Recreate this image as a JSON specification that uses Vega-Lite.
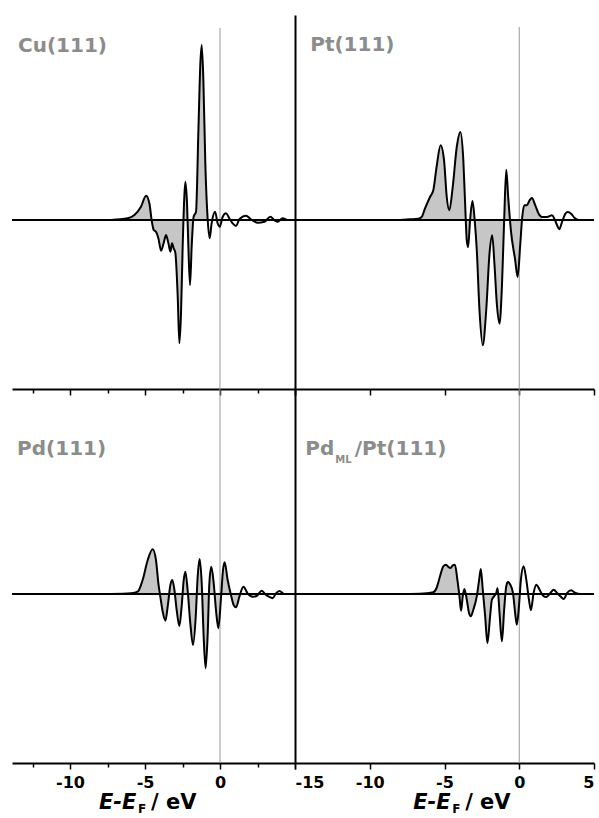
{
  "$schema": "https://vega.github.io/schema/vega-lite/v6.json",
  "padding": {"left": 11, "top": 15, "right": 0, "bottom": 0},
  "background": "white",
  "config": {
    "view": {"stroke": null},
    "concat": {"spacing": 0},
    "font": "DejaVu Sans",
    "axis": {"grid": false, "domainColor": "black", "domainWidth": 2, "tickColor": "black", "tickWidth": 1.5, "labelFont": "DejaVu Sans", "labelFontWeight": "bold", "labelFontSize": 16, "labelColor": "black", "labelPadding": 5}
  },
  "datasets": {
    "cu": [
      {"e": -7.27, "dos": 0}, {"e": -6.16, "dos": 1.7}, {"e": -5.71, "dos": 5}, {"e": -5.27, "dos": 13.3}, {"e": -4.93, "dos": 24.3}, {"e": -4.71, "dos": 16.7}, {"e": -4.56, "dos": 0}, {"e": -4.42, "dos": -10}, {"e": -4.27, "dos": -11.7}, {"e": -4.11, "dos": -18.3}, {"e": -3.93, "dos": -30.7}, {"e": -3.76, "dos": -23.3}, {"e": -3.6, "dos": -15}, {"e": -3.44, "dos": -23.3}, {"e": -3.31, "dos": -31.7}, {"e": -3.2, "dos": -23.3}, {"e": -3.09, "dos": -28.3}, {"e": -2.98, "dos": -32.7}, {"e": -2.82, "dos": -76.7}, {"e": -2.71, "dos": -123.3}, {"e": -2.6, "dos": -93.3}, {"e": -2.49, "dos": -26.7}, {"e": -2.38, "dos": 23.3}, {"e": -2.31, "dos": 38.3}, {"e": -2.2, "dos": 16.7}, {"e": -2.11, "dos": -26.7}, {"e": -2.0, "dos": -65}, {"e": -1.89, "dos": -26.7}, {"e": -1.76, "dos": 3.3}, {"e": -1.6, "dos": 8.3}, {"e": -1.44, "dos": 90}, {"e": -1.31, "dos": 156.7}, {"e": -1.22, "dos": 175}, {"e": -1.11, "dos": 140}, {"e": -0.98, "dos": 56.7}, {"e": -0.82, "dos": 0}, {"e": -0.69, "dos": -18.3}, {"e": -0.56, "dos": -3.3}, {"e": -0.33, "dos": 8.3}, {"e": -0.16, "dos": -3.3}, {"e": -0.02, "dos": -6.7}, {"e": 0.18, "dos": 3.3}, {"e": 0.4, "dos": 6.7}, {"e": 0.62, "dos": 1.7}, {"e": 0.84, "dos": -3.3}, {"e": 1.07, "dos": -6}, {"e": 1.29, "dos": 0.7}, {"e": 1.73, "dos": 4.3}, {"e": 2.07, "dos": 0.7}, {"e": 2.51, "dos": -2.7}, {"e": 2.96, "dos": -1.7}, {"e": 3.36, "dos": 3.3}, {"e": 3.6, "dos": 0}, {"e": 3.84, "dos": -1.7}, {"e": 4.18, "dos": 1.7}, {"e": 4.51, "dos": 0}, {"e": 5.0, "dos": 0}
    ],
    "pt": [
      {"e": -7.99, "dos": 0}, {"e": -7.32, "dos": 0.7}, {"e": -6.76, "dos": 1.3}, {"e": -6.53, "dos": 3}, {"e": -6.31, "dos": 11.3}, {"e": -5.97, "dos": 23}, {"e": -5.75, "dos": 29.7}, {"e": -5.53, "dos": 53}, {"e": -5.26, "dos": 74.7}, {"e": -5.03, "dos": 59.7}, {"e": -4.85, "dos": 23}, {"e": -4.68, "dos": 9.7}, {"e": -4.45, "dos": 33}, {"e": -4.18, "dos": 73}, {"e": -3.94, "dos": 88}, {"e": -3.74, "dos": 59.7}, {"e": -3.62, "dos": 16.3}, {"e": -3.51, "dos": -20.3}, {"e": -3.42, "dos": -27}, {"e": -3.29, "dos": -0.3}, {"e": -3.13, "dos": 19}, {"e": -2.98, "dos": -0.3}, {"e": -2.84, "dos": -30.3}, {"e": -2.66, "dos": -90.3}, {"e": -2.44, "dos": -125.3}, {"e": -2.21, "dos": -90.3}, {"e": -1.99, "dos": -33.7}, {"e": -1.81, "dos": -15.3}, {"e": -1.66, "dos": -43.7}, {"e": -1.5, "dos": -83.7}, {"e": -1.32, "dos": -103.7}, {"e": -1.16, "dos": -67}, {"e": -1.01, "dos": -0.3}, {"e": -0.87, "dos": 50.3}, {"e": -0.74, "dos": 23}, {"e": -0.56, "dos": -10.3}, {"e": -0.27, "dos": -40.3}, {"e": -0.11, "dos": -57}, {"e": 0.07, "dos": -23.7}, {"e": 0.2, "dos": 3}, {"e": 0.34, "dos": 14.7}, {"e": 0.51, "dos": 14.7}, {"e": 0.69, "dos": 19.7}, {"e": 0.85, "dos": 22}, {"e": 1.07, "dos": 14.7}, {"e": 1.3, "dos": 6.3}, {"e": 1.52, "dos": 3}, {"e": 1.86, "dos": 3}, {"e": 2.19, "dos": 4.7}, {"e": 2.35, "dos": 1.3}, {"e": 2.53, "dos": -5.3}, {"e": 2.68, "dos": -9.3}, {"e": 2.86, "dos": -2}, {"e": 3.09, "dos": 6.3}, {"e": 3.24, "dos": 8}, {"e": 3.47, "dos": 6.3}, {"e": 3.69, "dos": 2.3}, {"e": 3.98, "dos": 0}, {"e": 5.0, "dos": 0}
    ],
    "pd": [
      {"e": -7.27, "dos": 0}, {"e": -5.93, "dos": 0.7}, {"e": -5.49, "dos": 2.3}, {"e": -5.16, "dos": 14}, {"e": -4.82, "dos": 34}, {"e": -4.49, "dos": 44.7}, {"e": -4.27, "dos": 34}, {"e": -4.11, "dos": 10.7}, {"e": -3.98, "dos": -2.7}, {"e": -3.82, "dos": -17.7}, {"e": -3.64, "dos": -26.7}, {"e": -3.49, "dos": -12.7}, {"e": -3.31, "dos": 9}, {"e": -3.18, "dos": 14}, {"e": -3.04, "dos": 4}, {"e": -2.89, "dos": -16}, {"e": -2.71, "dos": -32}, {"e": -2.56, "dos": -12.7}, {"e": -2.42, "dos": 14}, {"e": -2.31, "dos": 22.3}, {"e": -2.16, "dos": 4}, {"e": -1.98, "dos": -29.3}, {"e": -1.8, "dos": -51}, {"e": -1.62, "dos": -22.7}, {"e": -1.49, "dos": 17.3}, {"e": -1.36, "dos": 35}, {"e": -1.22, "dos": 10.7}, {"e": -1.09, "dos": -42.7}, {"e": -0.96, "dos": -74.3}, {"e": -0.82, "dos": -39.3}, {"e": -0.71, "dos": 10.7}, {"e": -0.58, "dos": 27.3}, {"e": -0.42, "dos": 10.7}, {"e": -0.27, "dos": -16}, {"e": -0.11, "dos": -34.3}, {"e": 0.07, "dos": -2.7}, {"e": 0.2, "dos": 24}, {"e": 0.31, "dos": 31.7}, {"e": 0.51, "dos": 14}, {"e": 0.73, "dos": -1}, {"e": 0.91, "dos": -11}, {"e": 1.07, "dos": -13.3}, {"e": 1.29, "dos": -2.7}, {"e": 1.56, "dos": 7.3}, {"e": 1.84, "dos": 0.7}, {"e": 2.18, "dos": -2.7}, {"e": 2.44, "dos": -2}, {"e": 2.78, "dos": 3.3}, {"e": 3.07, "dos": -1}, {"e": 3.36, "dos": -3.3}, {"e": 3.51, "dos": -4.3}, {"e": 3.73, "dos": 0.7}, {"e": 3.96, "dos": 3}, {"e": 4.29, "dos": 0}, {"e": 5.0, "dos": 0}
    ],
    "pdml": [
      {"e": -7.32, "dos": 0}, {"e": -6.2, "dos": 0.7}, {"e": -5.75, "dos": 1.7}, {"e": -5.53, "dos": 6}, {"e": -5.3, "dos": 17.7}, {"e": -5.08, "dos": 27.7}, {"e": -4.9, "dos": 29.3}, {"e": -4.74, "dos": 27}, {"e": -4.59, "dos": 26}, {"e": -4.45, "dos": 28.7}, {"e": -4.3, "dos": 29.3}, {"e": -4.14, "dos": 14.3}, {"e": -4.0, "dos": -2.3}, {"e": -3.89, "dos": -16.7}, {"e": -3.78, "dos": -2.3}, {"e": -3.67, "dos": 5}, {"e": -3.51, "dos": -5.7}, {"e": -3.36, "dos": -19}, {"e": -3.24, "dos": -22.3}, {"e": -3.07, "dos": -15.7}, {"e": -2.84, "dos": -2.3}, {"e": -2.68, "dos": 14.3}, {"e": -2.57, "dos": 25}, {"e": -2.44, "dos": 4.3}, {"e": -2.28, "dos": -22.3}, {"e": -2.13, "dos": -49}, {"e": -1.95, "dos": -22.3}, {"e": -1.83, "dos": -5.7}, {"e": -1.68, "dos": -2.3}, {"e": -1.54, "dos": 1}, {"e": -1.45, "dos": 6}, {"e": -1.32, "dos": -19}, {"e": -1.16, "dos": -47.3}, {"e": -1.01, "dos": -15.7}, {"e": -0.87, "dos": 7.7}, {"e": -0.76, "dos": 12}, {"e": -0.6, "dos": 9.3}, {"e": -0.42, "dos": 1}, {"e": -0.25, "dos": -22.3}, {"e": -0.16, "dos": -30.7}, {"e": -0.02, "dos": -12.3}, {"e": 0.11, "dos": 14.3}, {"e": 0.29, "dos": 27.7}, {"e": 0.47, "dos": 14.3}, {"e": 0.65, "dos": -5.7}, {"e": 0.78, "dos": -16.3}, {"e": 0.96, "dos": 1}, {"e": 1.14, "dos": 9.3}, {"e": 1.36, "dos": 4.3}, {"e": 1.59, "dos": -1.7}, {"e": 1.81, "dos": -3}, {"e": 2.08, "dos": 1}, {"e": 2.3, "dos": 4.3}, {"e": 2.53, "dos": 1}, {"e": 2.75, "dos": -2.3}, {"e": 2.97, "dos": -5}, {"e": 3.2, "dos": 1}, {"e": 3.47, "dos": 3.7}, {"e": 3.76, "dos": 1}, {"e": 4.09, "dos": 0}, {"e": 5.0, "dos": 0}
    ]
  },
  "columns": 2,
  "spacing": 0,
  "bounds": "flush",
  "concat": [
    {
      "width": 283, "height": 374,
      "layer": [
        {"data": {"values": [{}]}, "mark": {"type": "rule", "color": "#999999", "strokeWidth": 1}, "encoding": {"x": {"datum": 0, "type": "quantitative", "scale": {"domain": [-13.87, 5], "nice": false, "zero": false}, "axis": {"values": [-12.5, -10, -7.5, -5, -2.5, 0, 2.5, 5], "labels": false, "title": null, "tickSize": {"condition": {"test": "datum.value % 5 === 0", "value": 6}, "value": 4}}}, "y": {"datum": 192, "type": "quantitative", "scale": {"domain": [-169, 205], "nice": false, "zero": false}, "axis": null}, "y2": {"datum": -169}}},
        {"data": {"name": "cu"}, "transform": [{"filter": "datum.e <= -0.8"}], "mark": {"type": "area", "color": "#c6c6c6", "interpolate": "monotone"}, "encoding": {"x": {"field": "e", "type": "quantitative", "scale": {"domain": [-13.87, 5], "nice": false, "zero": false}, "axis": {"values": [-12.5, -10, -7.5, -5, -2.5, 0, 2.5, 5], "labels": false, "title": null, "tickSize": {"condition": {"test": "datum.value % 5 === 0", "value": 6}, "value": 4}}}, "y": {"field": "dos", "type": "quantitative", "scale": {"domain": [-169, 205], "nice": false, "zero": false}, "axis": null}, "y2": {"datum": 0}}},
        {"data": {"name": "cu"}, "mark": {"type": "line", "color": "black", "strokeWidth": 2, "interpolate": "monotone"}, "encoding": {"x": {"field": "e", "type": "quantitative", "scale": {"domain": [-13.87, 5], "nice": false, "zero": false}, "axis": {"values": [-12.5, -10, -7.5, -5, -2.5, 0, 2.5, 5], "labels": false, "title": null, "tickSize": {"condition": {"test": "datum.value % 5 === 0", "value": 6}, "value": 4}}}, "y": {"field": "dos", "type": "quantitative", "scale": {"domain": [-169, 205], "nice": false, "zero": false}, "axis": null}}},
        {"data": {"values": [{}]}, "mark": {"type": "rule", "color": "black", "strokeWidth": 2}, "encoding": {"y": {"datum": 0, "type": "quantitative", "scale": {"domain": [-169, 205], "nice": false, "zero": false}, "axis": null}}},
        {"data": {"values": [{}]}, "mark": {"type": "text", "align": "left", "baseline": "alphabetic", "font": "DejaVu Sans", "fontWeight": "bold", "fontSize": 20, "color": "#8c8c8c", "clip": false}, "encoding": {"x": {"datum": -13.47, "type": "quantitative"}, "y": {"datum": 168, "type": "quantitative", "axis": null}, "text": {"value": "Cu(111)"}}}
      ]
    },
    {
      "width": 299, "height": 374,
      "layer": [
        {"data": {"values": [{}]}, "mark": {"type": "rule", "color": "#999999", "strokeWidth": 1}, "encoding": {"x": {"datum": 0, "type": "quantitative", "scale": {"domain": [-15, 5], "nice": false, "zero": false}, "axis": {"values": [-15, -12.5, -10, -7.5, -5, -2.5, 0, 2.5, 5], "labels": false, "title": null, "tickSize": {"condition": {"test": "datum.value % 5 === 0", "value": 6}, "value": 4}}}, "y": {"datum": 193, "type": "quantitative", "scale": {"domain": [-169, 205], "nice": false, "zero": false}, "axis": {"orient": "left", "ticks": false, "labels": false, "title": null}}, "y2": {"datum": -169}}},
        {"data": {"name": "pt"}, "transform": [{"filter": "datum.e <= 1.55"}], "mark": {"type": "area", "color": "#c6c6c6", "interpolate": "monotone"}, "encoding": {"x": {"field": "e", "type": "quantitative", "scale": {"domain": [-15, 5], "nice": false, "zero": false}, "axis": {"values": [-15, -12.5, -10, -7.5, -5, -2.5, 0, 2.5, 5], "labels": false, "title": null, "tickSize": {"condition": {"test": "datum.value % 5 === 0", "value": 6}, "value": 4}}}, "y": {"field": "dos", "type": "quantitative", "scale": {"domain": [-169, 205], "nice": false, "zero": false}, "axis": {"orient": "left", "ticks": false, "labels": false, "title": null}}, "y2": {"datum": 0}}},
        {"data": {"name": "pt"}, "mark": {"type": "line", "color": "black", "strokeWidth": 2, "interpolate": "monotone"}, "encoding": {"x": {"field": "e", "type": "quantitative", "scale": {"domain": [-15, 5], "nice": false, "zero": false}, "axis": {"values": [-15, -12.5, -10, -7.5, -5, -2.5, 0, 2.5, 5], "labels": false, "title": null, "tickSize": {"condition": {"test": "datum.value % 5 === 0", "value": 6}, "value": 4}}}, "y": {"field": "dos", "type": "quantitative", "scale": {"domain": [-169, 205], "nice": false, "zero": false}, "axis": {"orient": "left", "ticks": false, "labels": false, "title": null}}}},
        {"data": {"values": [{}]}, "mark": {"type": "rule", "color": "black", "strokeWidth": 2}, "encoding": {"y": {"datum": 0, "type": "quantitative", "scale": {"domain": [-169, 205], "nice": false, "zero": false}, "axis": {"orient": "left", "ticks": false, "labels": false, "title": null}}}},
        {"data": {"values": [{}]}, "mark": {"type": "text", "align": "left", "baseline": "alphabetic", "font": "DejaVu Sans", "fontWeight": "bold", "fontSize": 20, "color": "#8c8c8c", "clip": false}, "encoding": {"x": {"datum": -13.98, "type": "quantitative"}, "y": {"datum": 169, "type": "quantitative"}, "text": {"value": "Pt(111)"}}}
      ]
    },
    {
      "width": 283, "height": 374,
      "layer": [
        {"data": {"values": [{}]}, "mark": {"type": "rule", "color": "#999999", "strokeWidth": 1}, "encoding": {"x": {"datum": 0, "type": "quantitative", "scale": {"domain": [-13.87, 5], "nice": false, "zero": false}, "axis": {"values": [-12.5, -10, -7.5, -5, -2.5, 0, 2.5, 5], "labelExpr": "(datum.value % 5 === 0 && datum.value < 5) ? '' + datum.value : ''", "title": null, "tickSize": {"condition": {"test": "datum.value % 5 === 0", "value": 6}, "value": 4}}}, "y": {"datum": 205, "type": "quantitative", "scale": {"domain": [-169, 205], "nice": false, "zero": false}, "axis": null}, "y2": {"datum": -169}}},
        {"data": {"name": "pd"}, "transform": [{"filter": "datum.e <= 1.3"}], "mark": {"type": "area", "color": "#c6c6c6", "interpolate": "monotone"}, "encoding": {"x": {"field": "e", "type": "quantitative", "scale": {"domain": [-13.87, 5], "nice": false, "zero": false}, "axis": {"values": [-12.5, -10, -7.5, -5, -2.5, 0, 2.5, 5], "labelExpr": "(datum.value % 5 === 0 && datum.value < 5) ? '' + datum.value : ''", "title": null, "tickSize": {"condition": {"test": "datum.value % 5 === 0", "value": 6}, "value": 4}}}, "y": {"field": "dos", "type": "quantitative", "scale": {"domain": [-169, 205], "nice": false, "zero": false}, "axis": null}, "y2": {"datum": 0}}},
        {"data": {"name": "pd"}, "mark": {"type": "line", "color": "black", "strokeWidth": 2, "interpolate": "monotone"}, "encoding": {"x": {"field": "e", "type": "quantitative", "scale": {"domain": [-13.87, 5], "nice": false, "zero": false}, "axis": {"values": [-12.5, -10, -7.5, -5, -2.5, 0, 2.5, 5], "labelExpr": "(datum.value % 5 === 0 && datum.value < 5) ? '' + datum.value : ''", "title": null, "tickSize": {"condition": {"test": "datum.value % 5 === 0", "value": 6}, "value": 4}}}, "y": {"field": "dos", "type": "quantitative", "scale": {"domain": [-169, 205], "nice": false, "zero": false}, "axis": null}}},
        {"data": {"values": [{}]}, "mark": {"type": "rule", "color": "black", "strokeWidth": 2}, "encoding": {"y": {"datum": 0, "type": "quantitative", "scale": {"domain": [-169, 205], "nice": false, "zero": false}, "axis": null}}},
        {"data": {"values": [{}]}, "mark": {"type": "text", "align": "left", "baseline": "alphabetic", "font": "DejaVu Sans", "fontWeight": "bold", "fontSize": 20, "color": "#8c8c8c", "clip": false}, "encoding": {"x": {"datum": -13.53, "type": "quantitative"}, "y": {"datum": 139, "type": "quantitative", "axis": null}, "text": {"value": "Pd(111)"}}},
        {"data": {"values": [{}]}, "mark": {"type": "text", "align": "left", "baseline": "alphabetic", "font": "DejaVu Sans", "fontWeight": "bold", "fontStyle": "italic", "fontSize": 21, "color": "black", "clip": false}, "encoding": {"x": {"datum": -8.07, "type": "quantitative"}, "y": {"datum": -215, "type": "quantitative", "axis": null}, "text": {"value": "E-E"}}},
        {"data": {"values": [{}]}, "mark": {"type": "text", "align": "left", "baseline": "alphabetic", "font": "DejaVu Sans", "fontWeight": "bold", "fontSize": 12, "color": "black", "clip": false}, "encoding": {"x": {"datum": -5.47, "type": "quantitative"}, "y": {"datum": -219, "type": "quantitative", "axis": null}, "text": {"value": "F"}}},
        {"data": {"values": [{}]}, "mark": {"type": "text", "align": "left", "baseline": "alphabetic", "font": "DejaVu Sans", "fontWeight": "bold", "fontSize": 21, "color": "black", "clip": false}, "encoding": {"x": {"datum": -4.6, "type": "quantitative"}, "y": {"datum": -215, "type": "quantitative", "axis": null}, "text": {"value": "/ eV"}}}
      ]
    },
    {
      "width": 299, "height": 374,
      "layer": [
        {"data": {"values": [{}]}, "mark": {"type": "rule", "color": "#999999", "strokeWidth": 1}, "encoding": {"x": {"datum": 0, "type": "quantitative", "scale": {"domain": [-15, 5], "nice": false, "zero": false}, "axis": {"values": [-15, -12.5, -10, -7.5, -5, -2.5, 0, 2.5, 5], "labelExpr": "datum.value % 5 === 0 ? '' + datum.value : ''", "title": null, "tickSize": {"condition": {"test": "datum.value % 5 === 0", "value": 6}, "value": 4}}}, "y": {"datum": 205, "type": "quantitative", "scale": {"domain": [-169, 205], "nice": false, "zero": false}, "axis": {"orient": "left", "ticks": false, "labels": false, "title": null}}, "y2": {"datum": -169}}},
        {"data": {"name": "pdml"}, "transform": [{"filter": "datum.e <= 0"}], "mark": {"type": "area", "color": "#c6c6c6", "interpolate": "monotone"}, "encoding": {"x": {"field": "e", "type": "quantitative", "scale": {"domain": [-15, 5], "nice": false, "zero": false}, "axis": {"values": [-15, -12.5, -10, -7.5, -5, -2.5, 0, 2.5, 5], "labelExpr": "datum.value % 5 === 0 ? '' + datum.value : ''", "title": null, "tickSize": {"condition": {"test": "datum.value % 5 === 0", "value": 6}, "value": 4}}}, "y": {"field": "dos", "type": "quantitative", "scale": {"domain": [-169, 205], "nice": false, "zero": false}, "axis": {"orient": "left", "ticks": false, "labels": false, "title": null}}, "y2": {"datum": 0}}},
        {"data": {"name": "pdml"}, "mark": {"type": "line", "color": "black", "strokeWidth": 2, "interpolate": "monotone"}, "encoding": {"x": {"field": "e", "type": "quantitative", "scale": {"domain": [-15, 5], "nice": false, "zero": false}, "axis": {"values": [-15, -12.5, -10, -7.5, -5, -2.5, 0, 2.5, 5], "labelExpr": "datum.value % 5 === 0 ? '' + datum.value : ''", "title": null, "tickSize": {"condition": {"test": "datum.value % 5 === 0", "value": 6}, "value": 4}}}, "y": {"field": "dos", "type": "quantitative", "scale": {"domain": [-169, 205], "nice": false, "zero": false}, "axis": {"orient": "left", "ticks": false, "labels": false, "title": null}}}},
        {"data": {"values": [{}]}, "mark": {"type": "rule", "color": "black", "strokeWidth": 2}, "encoding": {"y": {"datum": 0, "type": "quantitative", "scale": {"domain": [-169, 205], "nice": false, "zero": false}, "axis": {"orient": "left", "ticks": false, "labels": false, "title": null}}}},
        {"data": {"values": [{}]}, "mark": {"type": "text", "align": "left", "baseline": "alphabetic", "font": "DejaVu Sans", "fontWeight": "bold", "fontSize": 20, "color": "#8c8c8c", "clip": false}, "encoding": {"x": {"datum": -14.31, "type": "quantitative"}, "y": {"datum": 139, "type": "quantitative"}, "text": {"value": "Pd"}}},
        {"data": {"values": [{}]}, "mark": {"type": "text", "align": "left", "baseline": "alphabetic", "font": "DejaVu Sans", "fontWeight": "bold", "fontSize": 10, "color": "#8c8c8c", "clip": false}, "encoding": {"x": {"datum": -12.3, "type": "quantitative"}, "y": {"datum": 131, "type": "quantitative"}, "text": {"value": "ML"}}},
        {"data": {"values": [{}]}, "mark": {"type": "text", "align": "left", "baseline": "alphabetic", "font": "DejaVu Sans", "fontWeight": "bold", "fontSize": 20, "color": "#8c8c8c", "clip": false}, "encoding": {"x": {"datum": -11.0, "type": "quantitative"}, "y": {"datum": 139, "type": "quantitative"}, "text": {"value": "/Pt(111)"}}},
        {"data": {"values": [{}]}, "mark": {"type": "text", "align": "left", "baseline": "alphabetic", "font": "DejaVu Sans", "fontWeight": "bold", "fontStyle": "italic", "fontSize": 21, "color": "black", "clip": false}, "encoding": {"x": {"datum": -7.09, "type": "quantitative"}, "y": {"datum": -215, "type": "quantitative"}, "text": {"value": "E-E"}}},
        {"data": {"values": [{}]}, "mark": {"type": "text", "align": "left", "baseline": "alphabetic", "font": "DejaVu Sans", "fontWeight": "bold", "fontSize": 12, "color": "black", "clip": false}, "encoding": {"x": {"datum": -4.48, "type": "quantitative"}, "y": {"datum": -219, "type": "quantitative"}, "text": {"value": "F"}}},
        {"data": {"values": [{}]}, "mark": {"type": "text", "align": "left", "baseline": "alphabetic", "font": "DejaVu Sans", "fontWeight": "bold", "fontSize": 21, "color": "black", "clip": false}, "encoding": {"x": {"datum": -3.62, "type": "quantitative"}, "y": {"datum": -215, "type": "quantitative"}, "text": {"value": "/ eV"}}}
      ]
    }
  ]
}
